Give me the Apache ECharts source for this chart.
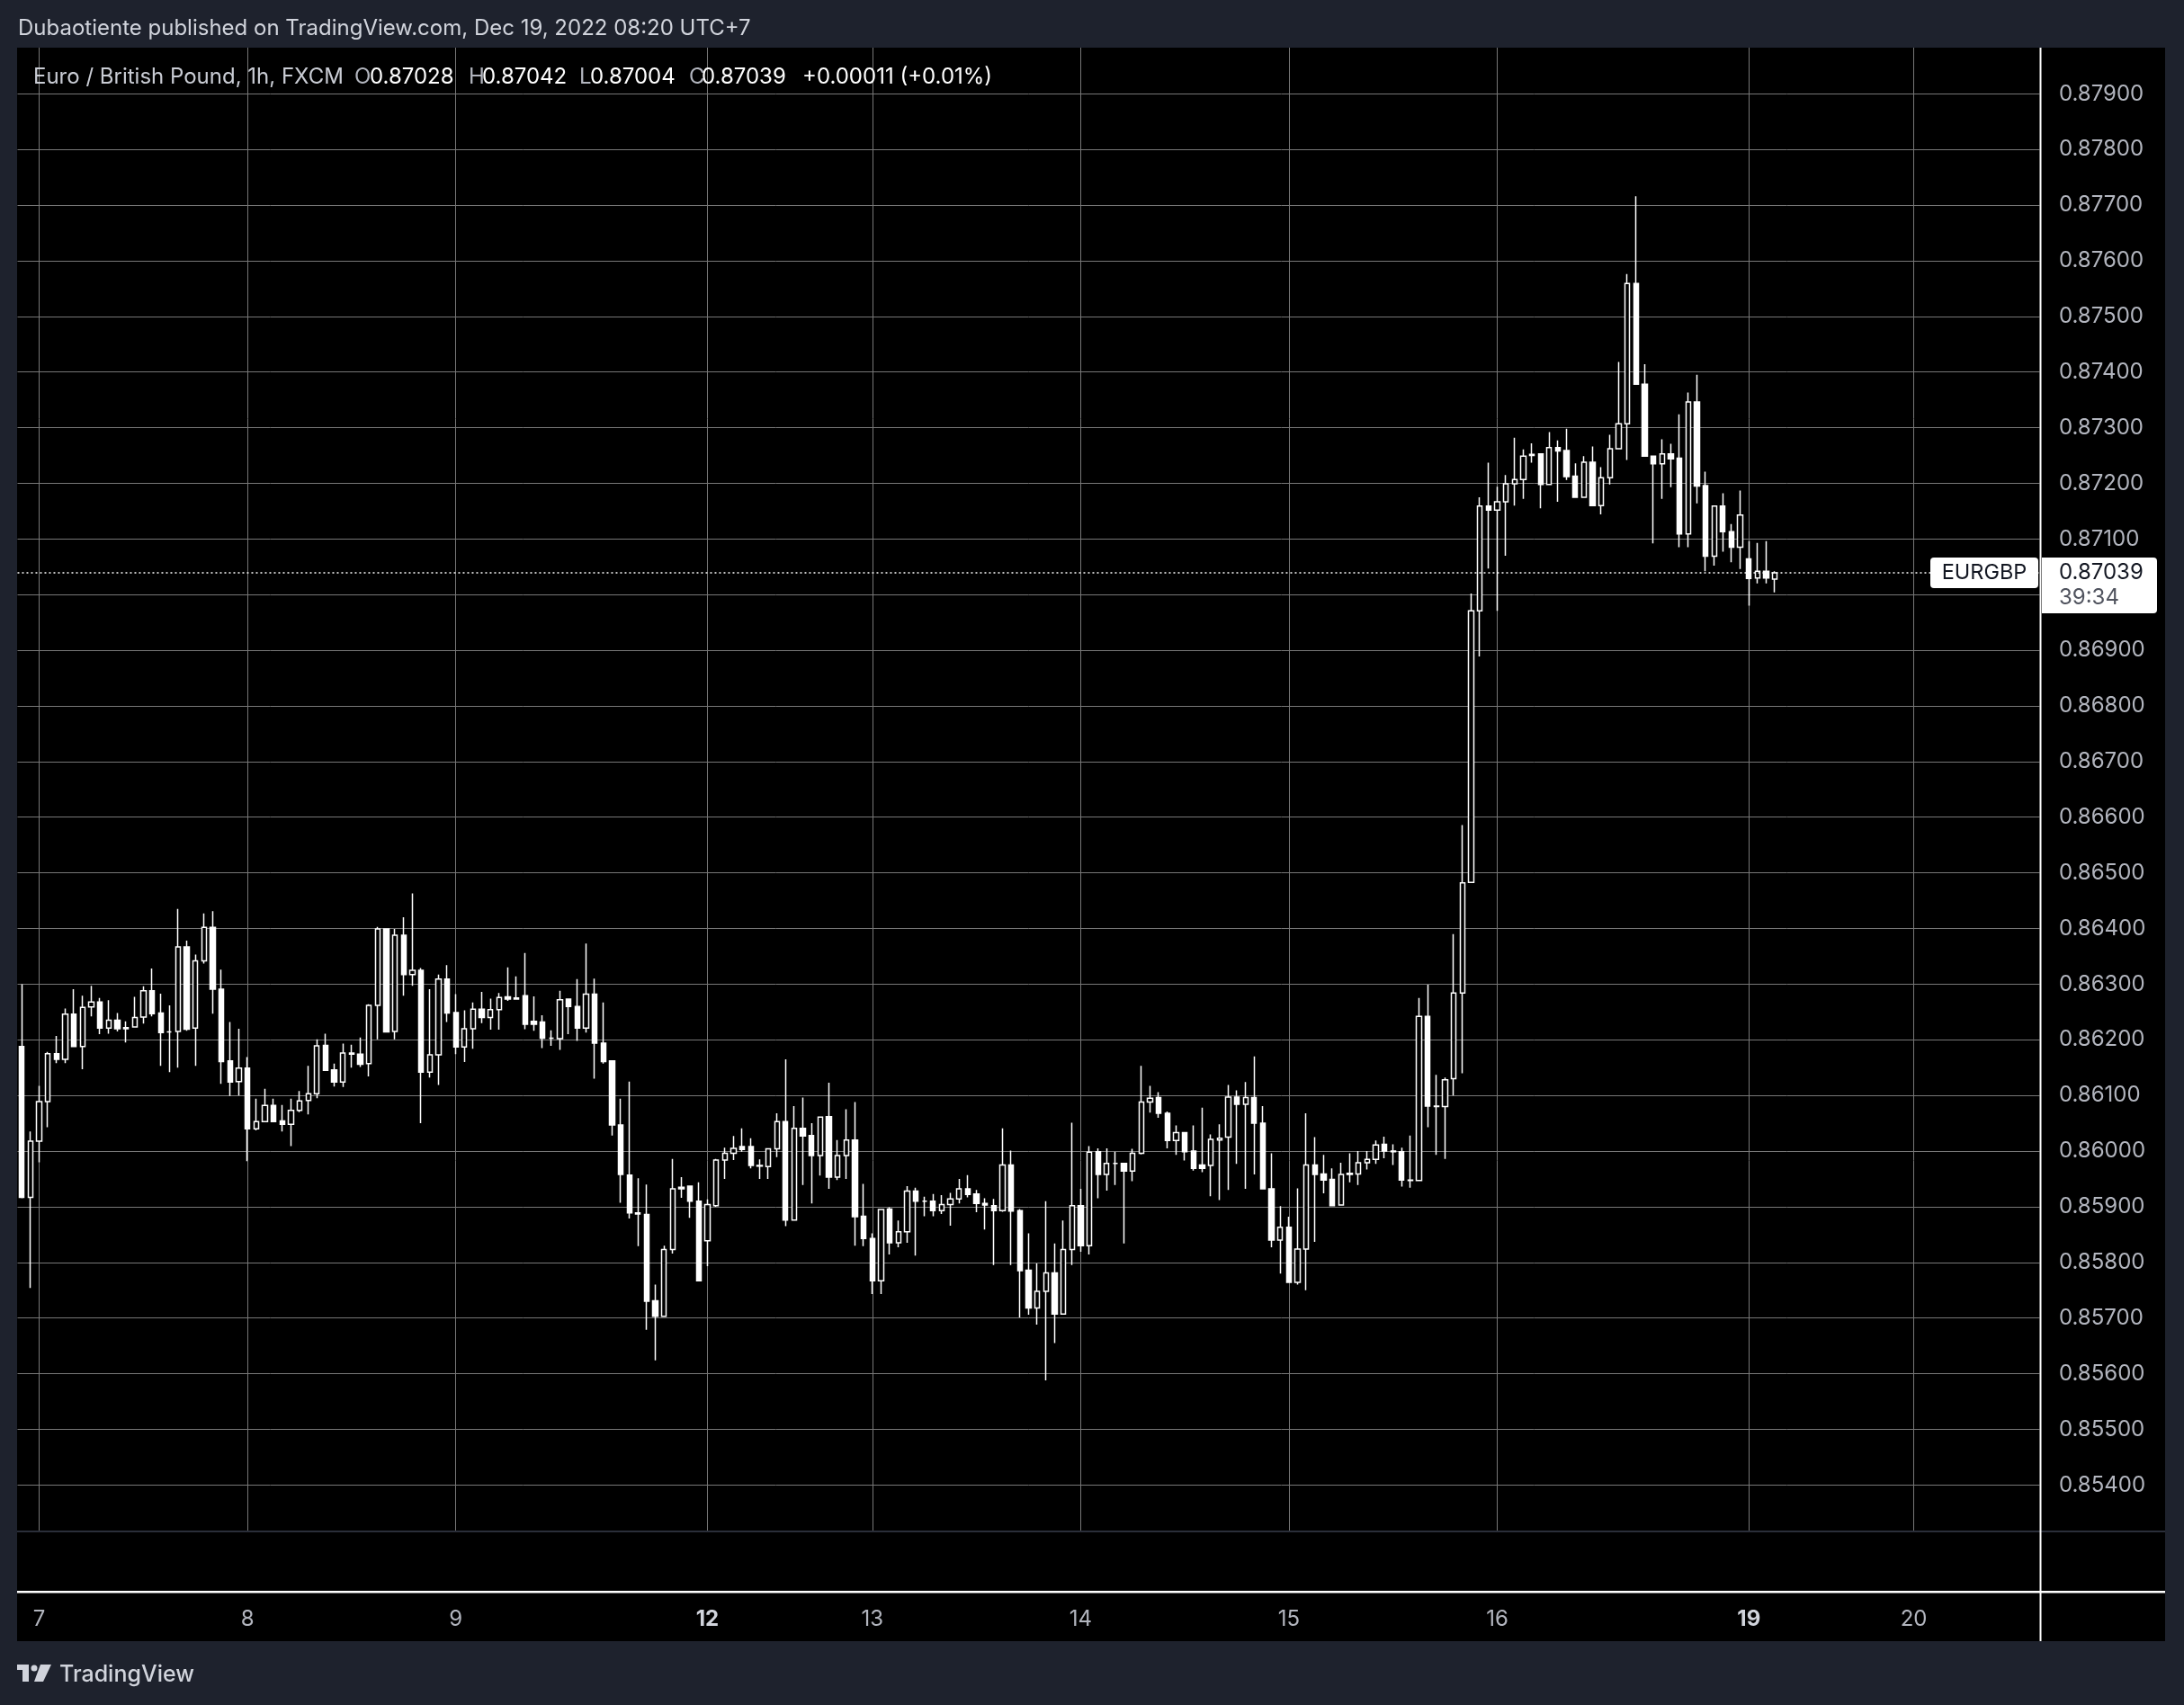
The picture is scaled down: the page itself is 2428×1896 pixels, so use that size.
<!DOCTYPE html>
<html><head><meta charset="utf-8">
<script src="https://cdn.jsdelivr.net/npm/echarts@6/dist/echarts.min.js"></script>
<style>html,body{margin:0;padding:0;background:#1e222d}#c{width:2428px;height:1896px}</style>
</head><body><div id="c"></div><script>
// ---- data ----
const sessionDay       = ['6','7','8','9','12','13','14','15','16','19','20'];
const sessionFirstHour = [22,0,0,0,5,0,0,0,0,5,0];
const sessionBars      = [2,24,24,29,19,24,24,24,29,19,15];
const weekStartDays    = ['12','19'];
const yTickLabels = { min: 0.854, max: 0.879, step: 0.001, decimals: 5 };
const symbolName = 'EURGBP';
const titleText = 'Euro / British Pound, 1h, FXCM';
const headerText = 'Dubaotiente published on TradingView.com, Dec 19, 2022 08:20 UTC+7';
const countdownText = '39:34';

const opens = [
0.86188,0.85917,0.86018,0.86089,0.86175,0.86165,0.86246,0.86188,0.86259,0.86268,
0.86221,0.86235,0.86220,0.86223,0.86241,0.86288,0.86248,0.86214,0.86215,0.86367,
0.86221,0.86342,0.86402,0.86291,0.86162,0.86125,0.86149,0.86040,0.86053,0.86082,
0.86054,0.86048,0.86073,0.86091,0.86103,0.86190,0.86146,0.86124,0.86176,0.86174,
0.86157,0.86262,0.86399,0.86215,0.86388,0.86317,0.86325,0.86142,0.86173,0.86309,
0.86249,0.86187,0.86220,0.86255,0.86240,0.86254,0.86277,0.86273,0.86279,0.86233,
0.86232,0.86203,0.86202,0.86273,0.86260,0.86221,0.86282,0.86194,0.86162,0.86047,
0.85957,0.85889,0.85886,0.85731,0.85703,0.85823,0.85935,0.85937,0.85910,0.85839,
0.85902,0.85984,0.85996,0.86008,0.86008,0.85974,0.85972,0.86004,0.86053,0.85876,
0.86041,0.86028,0.85992,0.86062,0.85953,0.85992,0.86020,0.85883,0.85843,0.85767,
0.85896,0.85835,0.85855,0.85928,0.85910,0.85910,0.85893,0.85904,0.85914,0.85932,
0.85923,0.85906,0.85902,0.85893,0.85975,0.85893,0.85786,0.85718,0.85748,0.85781,
0.85707,0.85823,0.85902,0.85830,0.85999,0.85958,0.85978,0.85978,0.85964,0.85996,
0.86088,0.86096,0.86068,0.86019,0.86033,0.86000,0.85975,0.85974,0.86020,0.86025,
0.86097,0.86084,0.86096,0.86050,0.85932,0.85840,0.85863,0.85764,0.85824,0.85975,
0.85959,0.85949,0.85903,0.85958,0.85959,0.85979,0.85985,0.86012,0.86000,0.85999,
0.85948,0.85947,0.86242,0.86081,0.86080,0.86130,0.86284,0.86483,0.86971,0.87159,
0.87152,0.87167,0.87199,0.87207,0.87250,0.87253,0.87198,0.87264,0.87259,0.87213,
0.87175,0.87238,0.87160,0.87210,0.87262,0.87307,0.87559,0.87378,0.87249,0.87235,
0.87253,0.87245,0.87109,0.87346,0.87196,0.87069,0.87159,0.87113,0.87085,0.87064,
0.87030,0.87042,0.87028];
const closes = [
0.85917,0.86018,0.86089,0.86175,0.86165,0.86246,0.86188,0.86258,0.86268,0.86221,
0.86235,0.86220,0.86222,0.86240,0.86288,0.86247,0.86213,0.86214,0.86367,0.86219,
0.86342,0.86402,0.86291,0.86161,0.86124,0.86149,0.86040,0.86053,0.86082,0.86053,
0.86048,0.86073,0.86090,0.86103,0.86189,0.86145,0.86124,0.86176,0.86174,0.86156,
0.86262,0.86399,0.86214,0.86388,0.86317,0.86325,0.86142,0.86173,0.86309,0.86248,
0.86187,0.86220,0.86255,0.86240,0.86254,0.86276,0.86273,0.86275,0.86228,0.86228,
0.86203,0.86203,0.86272,0.86260,0.86221,0.86282,0.86194,0.86161,0.86047,0.85958,
0.85889,0.85887,0.85730,0.85703,0.85823,0.85932,0.85932,0.85910,0.85767,0.85904,
0.85984,0.85996,0.86005,0.86003,0.85974,0.85973,0.86004,0.86053,0.85876,0.86041,
0.86027,0.85992,0.86061,0.85953,0.85992,0.86020,0.85882,0.85843,0.85767,0.85895,
0.85835,0.85855,0.85928,0.85910,0.85910,0.85893,0.85904,0.85914,0.85932,0.85922,
0.85906,0.85903,0.85893,0.85975,0.85892,0.85785,0.85718,0.85748,0.85781,0.85707,
0.85823,0.85902,0.85830,0.85998,0.85958,0.85978,0.85978,0.85964,0.85996,0.86088,
0.86095,0.86068,0.86019,0.86033,0.85999,0.85969,0.85969,0.86021,0.86023,0.86097,
0.86084,0.86096,0.86050,0.85932,0.85840,0.85863,0.85764,0.85824,0.85975,0.85958,
0.85948,0.85902,0.85958,0.85960,0.85979,0.85985,0.86011,0.86000,0.85999,0.85948,
0.85947,0.86242,0.86081,0.86080,0.86128,0.86284,0.86482,0.86971,0.87159,0.87152,
0.87167,0.87199,0.87207,0.87249,0.87252,0.87198,0.87264,0.87258,0.87212,0.87175,
0.87238,0.87160,0.87210,0.87262,0.87307,0.87559,0.87378,0.87249,0.87235,0.87253,
0.87244,0.87109,0.87346,0.87195,0.87069,0.87159,0.87113,0.87085,0.87143,0.87029,
0.87042,0.87030,0.87039];
const lows = [
0.85915,0.85754,0.85980,0.86043,0.86158,0.86158,0.86187,0.86147,0.86242,0.86210,
0.86211,0.86215,0.86195,0.86222,0.86229,0.86242,0.86153,0.86142,0.86150,0.86216,
0.86153,0.86337,0.86247,0.86121,0.86099,0.86100,0.85982,0.86037,0.86052,0.86053,
0.86035,0.86009,0.86070,0.86066,0.86095,0.86145,0.86116,0.86115,0.86150,0.86151,
0.86134,0.86201,0.86213,0.86201,0.86279,0.86297,0.86050,0.86132,0.86119,0.86232,
0.86174,0.86160,0.86184,0.86230,0.86218,0.86218,0.86270,0.86272,0.86219,0.86216,
0.86185,0.86189,0.86182,0.86210,0.86198,0.86213,0.86130,0.86157,0.86028,0.85907,
0.85879,0.85829,0.85679,0.85624,0.85703,0.85816,0.85916,0.85880,0.85767,0.85793,
0.85900,0.85950,0.85984,0.85999,0.85969,0.85950,0.85950,0.85989,0.85865,0.85876,
0.85939,0.85906,0.85956,0.85932,0.85948,0.85950,0.85830,0.85829,0.85743,0.85743,
0.85814,0.85827,0.85835,0.85812,0.85883,0.85883,0.85887,0.85866,0.85906,0.85917,
0.85890,0.85859,0.85795,0.85891,0.85795,0.85701,0.85706,0.85688,0.85588,0.85655,
0.85707,0.85795,0.85819,0.85814,0.85915,0.85929,0.85939,0.85834,0.85946,0.85994,
0.86069,0.86060,0.86005,0.85993,0.85983,0.85965,0.85962,0.85919,0.85912,0.85930,
0.85977,0.85932,0.85958,0.85931,0.85827,0.85780,0.85764,0.85760,0.85750,0.85837,
0.85924,0.85901,0.85903,0.85944,0.85939,0.85967,0.85977,0.85987,0.85975,0.85936,
0.85934,0.85947,0.86043,0.85993,0.85986,0.86100,0.86140,0.86483,0.86889,0.87047,
0.86971,0.87070,0.87160,0.87172,0.87237,0.87155,0.87198,0.87167,0.87206,0.87175,
0.87175,0.87160,0.87144,0.87198,0.87262,0.87242,0.87378,0.87249,0.87092,0.87172,
0.87193,0.87085,0.87085,0.87164,0.87042,0.87052,0.87077,0.87058,0.87046,0.86980,
0.87020,0.87020,0.87004];
const highs = [
0.86300,0.86035,0.86117,0.86178,0.86207,0.86256,0.86291,0.86279,0.86297,0.86275,
0.86271,0.86248,0.86233,0.86277,0.86296,0.86328,0.86283,0.86262,0.86435,0.86378,
0.86353,0.86427,0.86431,0.86326,0.86232,0.86220,0.86169,0.86094,0.86112,0.86094,
0.86083,0.86094,0.86108,0.86153,0.86201,0.86211,0.86157,0.86193,0.86191,0.86204,
0.86264,0.86403,0.86400,0.86399,0.86420,0.86463,0.86329,0.86291,0.86317,0.86334,
0.86282,0.86253,0.86267,0.86286,0.86274,0.86284,0.86330,0.86314,0.86356,0.86278,
0.86244,0.86217,0.86288,0.86273,0.86309,0.86373,0.86310,0.86267,0.86163,0.86094,
0.86125,0.85951,0.85940,0.85760,0.85830,0.85986,0.85953,0.85937,0.85944,0.85913,
0.85986,0.86006,0.86027,0.86041,0.86023,0.85985,0.86004,0.86068,0.86165,0.86081,
0.86096,0.86050,0.86061,0.86123,0.86020,0.86075,0.86088,0.85941,0.85852,0.85895,
0.85899,0.85875,0.85937,0.85934,0.85918,0.85923,0.85921,0.85925,0.85950,0.85957,
0.85930,0.85915,0.85914,0.86041,0.86001,0.85896,0.85852,0.85798,0.85910,0.85834,
0.85875,0.86051,0.85932,0.86009,0.86005,0.86005,0.85999,0.85978,0.86004,0.86153,
0.86117,0.86106,0.86071,0.86046,0.86034,0.86046,0.86078,0.86030,0.86048,0.86119,
0.86109,0.86124,0.86170,0.86081,0.85996,0.85901,0.85882,0.85933,0.86068,0.86025,
0.85993,0.85969,0.85979,0.85996,0.86000,0.86000,0.86019,0.86026,0.86012,0.86006,
0.86028,0.86275,0.86299,0.86137,0.86132,0.86390,0.86586,0.87002,0.87175,0.87237,
0.87194,0.87215,0.87282,0.87261,0.87272,0.87253,0.87292,0.87277,0.87298,0.87236,
0.87249,0.87266,0.87229,0.87287,0.87418,0.87576,0.87716,0.87414,0.87249,0.87279,
0.87271,0.87324,0.87363,0.87395,0.87221,0.87159,0.87182,0.87127,0.87187,0.87096,
0.87093,0.87096,0.87042];

// ---- build categories (hourly bars, per trading session) ----
const categories = [];
const dayStart = {};            // index -> day label
sessionDay.forEach((d, s) => {
  for (let k = 0; k < sessionBars[s]; k++) {
    const h = (sessionFirstHour[s] + k) % 24;
    if (k === 0 && s > 0) dayStart[categories.length] = d;
    categories.push(d + ' ' + String(h).padStart(2, '0') + ':00');
  }
});
const candles = opens.map((o, i) => [o, closes[i], lows[i], highs[i]]);
const last = candles.length - 1;
const lastO = opens[last], lastH = highs[last], lastL = lows[last], lastC = closes[last];
const chg = lastC - lastO;

// ---- layout ----
const BAR = 9.648;
const N = categories.length;
const FONT = 'Inter, "Noto Sans", Roboto, sans-serif';
const PX_PER_UNIT = 61880;          // pixels per 1.0 of price
const Y_TOP = 104.3;                // pixel of max tick
const GRID_COLOR = '#777777';
const LABEL_COLOR = '#b2b5be';

const chart = echarts.init(document.getElementById('c'), null, { renderer: 'canvas' });
chart.setOption({
  animation: false,
  backgroundColor: '#1e222d',
  grid: [
    { left: 24.3, top: 53, width: (N - 1) * BAR, height: 1650, containLabel: false },
    { left: 24.3 - BAR / 2, top: Y_TOP, width: N * BAR,
      height: (yTickLabels.max - yTickLabels.min) * PX_PER_UNIT, containLabel: false }
  ],
  xAxis: [
    { type: 'category', gridIndex: 0, data: categories, boundaryGap: false,
      axisLine: { show: false }, axisTick: { show: false },
      splitLine: { show: true, interval: (i) => dayStart[i] !== undefined,
                   lineStyle: { color: GRID_COLOR, width: 1 } },
      axisLabel: { show: true, interval: (i) => dayStart[i] !== undefined, margin: 86,
        fontFamily: FONT, fontSize: 24, color: LABEL_COLOR,
        formatter: (v, i) => {
          const d = dayStart[i];
          if (d === undefined) return '';
          return weekStartDays.includes(d) ? '{b|' + d + '}' : d;
        },
        rich: { b: { fontFamily: FONT, fontSize: 24, fontWeight: 'bold', color: '#d1d4dc' } } } },
    { type: 'category', gridIndex: 1, data: categories, boundaryGap: true, show: false }
  ],
  yAxis: [
    { type: 'value', gridIndex: 0, min: 0, max: 1, show: false },
    { type: 'value', gridIndex: 1, position: 'right', scale: true,
      min: yTickLabels.min, max: yTickLabels.max, interval: yTickLabels.step,
      axisLine: { show: false }, axisTick: { show: false },
      splitLine: { show: true, lineStyle: { color: GRID_COLOR, width: 1 } },
      axisLabel: { margin: 21.5, fontFamily: FONT, fontSize: 24, color: LABEL_COLOR,
        formatter: (v) => v.toFixed(yTickLabels.decimals) } }
  ],
  series: [{
    type: 'candlestick', xAxisIndex: 1, yAxisIndex: 1, data: candles,
    barWidth: 5.8, silent: true,
    itemStyle: { color: '#000000', color0: '#ffffff', borderColor: '#ffffff',
                 borderColor0: '#ffffff', borderColorDoji: '#ffffff', borderWidth: 1.5 },
    markLine: { silent: true, precision: 5, symbol: ['none', 'none'], label: { show: false },
      lineStyle: { color: '#ffffff', type: [2, 3], width: 1.5 },
      emphasis: { disabled: true },
      data: [{ yAxis: lastC }] }
  }]
});

const py = chart.convertToPixel({ yAxisIndex: 1 }, lastC);
const fmt = (v) => v.toFixed(5);
const txt = (x, y, text, size, fill, extra) => Object.assign({
  type: 'text', z: 300, x: x, y: y,
  style: { text: text, fontFamily: FONT, fontSize: size, fill: fill,
           verticalAlign: 'middle', align: 'left' } }, extra || {});

const legendY = 86;
const LS = 24;
chart.setOption({
  graphic: [
    { type: 'rect', z: -100, shape: { x: 19, y: 53, width: 2388, height: 1772 }, style: { fill: '#000000' } },
    { type: 'rect', z: 50, shape: { x: 19, y: 1702, width: 2388, height: 2 }, style: { fill: '#2a2e39' } },
    { type: 'rect', z: 50, shape: { x: 19, y: 1769, width: 2388, height: 2.5 }, style: { fill: '#ffffff' } },
    { type: 'rect', z: 50, shape: { x: 2267.5, y: 53, width: 2, height: 1772 }, style: { fill: '#ffffff' } },
    // last-price labels
    { type: 'rect', z: 200, shape: { x: 2146, y: py - 17, width: 120, height: 34, r: 4 }, style: { fill: '#ffffff' } },
    txt(2206, py, symbolName, 23.5, '#131722', { style: { text: symbolName, fontFamily: FONT, fontSize: 23.5, fill: '#131722', align: 'center', verticalAlign: 'middle' } }),
    { type: 'rect', z: 200, shape: { x: 2270, y: py - 17, width: 128, height: 62, r: [0, 4, 4, 0] }, style: { fill: '#ffffff' } },
    txt(2289, py, fmt(lastC), 24, '#131722'),
    txt(2289, py + 28, countdownText, 24, '#50535e'),
    // header
    txt(20, 32, headerText, 24, '#d1d4dc'),
    // legend
    txt(37, legendY, titleText, LS, '#c9ccd4'),
    txt(394, legendY, 'O', LS, LABEL_COLOR), txt(411, legendY, fmt(lastO), LS, '#ffffff'),
    txt(521, legendY, 'H', LS, LABEL_COLOR), txt(536, legendY, fmt(lastH), LS, '#ffffff'),
    txt(644, legendY, 'L', LS, LABEL_COLOR), txt(656, legendY, fmt(lastL), LS, '#ffffff'),
    txt(766, legendY, 'C', LS, LABEL_COLOR), txt(780, legendY, fmt(lastC), LS, '#ffffff'),
    txt(892, legendY, (chg >= 0 ? '+' : '') + fmt(chg) + ' (' + (chg >= 0 ? '+' : '') + (chg / lastO * 100).toFixed(2) + '%)', LS, '#ffffff'),
    // footer logo
    { type: 'rect', z: 300, shape: { x: 19, y: 1851, width: 13, height: 6 }, style: { fill: '#d1d4dc' } },
    { type: 'rect', z: 300, shape: { x: 25, y: 1851, width: 7, height: 19 }, style: { fill: '#d1d4dc' } },
    { type: 'circle', z: 300, shape: { cx: 38, cy: 1855, r: 3.5 }, style: { fill: '#d1d4dc' } },
    { type: 'polygon', z: 300, shape: { points: [[45, 1851], [57, 1851], [48, 1870], [38, 1870]] }, style: { fill: '#d1d4dc' } },
    txt(66, 1862, 'TradingView', 25, '#d1d4dc', { style: { text: 'TradingView', fontFamily: FONT, fontSize: 25, fontWeight: 500, fill: '#d1d4dc', verticalAlign: 'middle' } })
  ]
});
</script></body></html>
